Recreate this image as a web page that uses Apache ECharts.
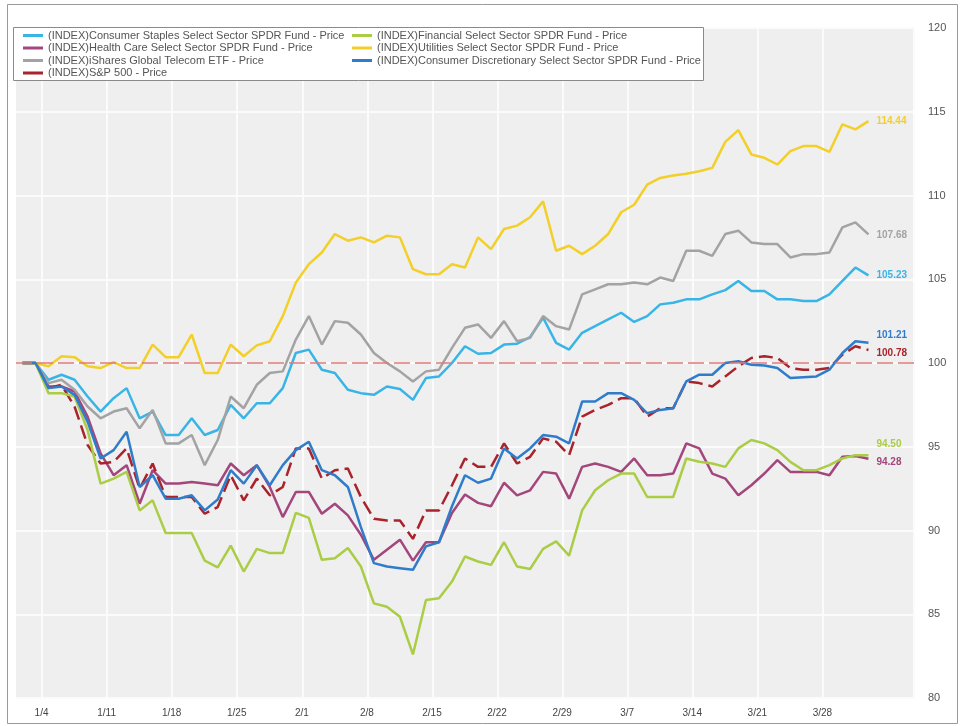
<!DOCTYPE html>
<html>
<head>
<meta charset="utf-8">
<title>Sector SPDR funds vs S&amp;P 500</title>
<script src="https://cdn.jsdelivr.net/npm/echarts@6.0.0/dist/echarts.min.js"></script>
<style>
  html, body { margin: 0; padding: 0; background: #fff; }
  #chart { width: 963px; height: 726px; }
</style>
</head>
<body>
<div id="chart"></div>
<script>
// weekday slots, 12/31/2015 .. 3/31/2016 (+ a few empty slots on the right)
const dates = ['12/31','1/1','1/4','1/5','1/6','1/7','1/8','1/11','1/12','1/13','1/14','1/15','1/18','1/19','1/20','1/21','1/22',
  '1/25','1/26','1/27','1/28','1/29','2/1','2/2','2/3','2/4','2/5','2/8','2/9','2/10','2/11','2/12','2/15','2/16','2/17','2/18','2/19',
  '2/22','2/23','2/24','2/25','2/26','2/29','3/1','3/2','3/3','3/4','3/7','3/8','3/9','3/10','3/11','3/14','3/15','3/16','3/17','3/18',
  '3/21','3/22','3/23','3/24','3/25','3/28','3/29','3/30','3/31','4/1','4/4','4/5'];

// which slots get a date label / week line (the Mondays)
const weekStarts = ['1/4','1/11','1/18','1/25','2/1','2/8','2/15','2/22','2/29','3/7','3/14','3/21','3/28'];

const staples = [100, 100, 99.0, 99.3, 99.0, 98.0, 97.1, 97.9, 98.5, 96.7,
  97.1, 95.7, 95.7, 96.7, 95.7, 96.0, 97.5, 96.7, 97.6, 97.6,
  98.5, 100.6, 100.8, 99.6, 99.4, 98.4, 98.2, 98.1, 98.6, 98.45,
  97.8, 99.1, 99.2, 100.0, 101.0, 100.55, 100.6, 101.1, 101.15, 101.55,
  102.7, 101.2, 100.8, 101.8, 102.2, 102.6, 103.0, 102.45, 102.8, 103.5,
  103.6, 103.8, 103.8, 104.1, 104.35, 104.9, 104.3, 104.3, 103.8, 103.8,
  103.7, 103.7, 104.1, 104.9, 105.7, 105.23];

const health = [100, 100, 98.6, 98.6, 98.3, 96.8, 94.6, 93.3, 93.9, 91.6,
  93.6, 92.8, 92.8, 92.9, 92.8, 92.7, 94.0, 93.3, 93.9, 92.6,
  90.8, 92.3, 92.3, 91.0, 91.6, 90.9, 89.75, 88.25, 88.85, 89.45,
  88.2, 89.3, 89.3, 91.05, 92.15, 91.65, 91.45, 92.85, 92.1, 92.4,
  93.5, 93.4, 91.9, 93.8, 94.0, 93.8, 93.5, 94.3, 93.3, 93.3,
  93.4, 95.2, 94.9, 93.4, 93.1, 92.1, 92.7, 93.4, 94.2, 93.5,
  93.5, 93.5, 93.3, 94.4, 94.45, 94.28];

const telecom = [100, 100, 98.8, 99.0, 98.4, 97.4, 96.7, 97.1, 97.3, 96.1,
  97.2, 95.2, 95.2, 95.7, 93.9, 95.4, 98.0, 97.3, 98.7, 99.4,
  99.5, 101.4, 102.8, 101.1, 102.5, 102.4, 101.7, 100.6, 100.0, 99.5,
  98.9, 99.5, 99.6, 100.9, 102.1, 102.3, 101.5, 102.5, 101.3, 101.5,
  102.8, 102.2, 102.0, 104.1, 104.4, 104.7, 104.7, 104.8, 104.7, 105.1,
  104.9, 106.7, 106.7, 106.4, 107.7, 107.9, 107.2, 107.1, 107.1, 106.3,
  106.5, 106.5, 106.6, 108.1, 108.4, 107.68];

const sp500 = [100, 100, 98.5, 98.7, 97.4, 95.1, 94.0, 94.1, 94.9, 92.5,
  94.0, 92.0, 92.0, 92.0, 91.0, 91.4, 93.3, 91.8, 93.1, 92.1,
  92.6, 94.9, 94.9, 93.1, 93.6, 93.7, 92.0, 90.7, 90.6, 90.6,
  89.5, 91.2, 91.2, 92.7, 94.3, 93.8, 93.8, 95.2, 94.0, 94.4,
  95.5, 95.3, 94.5, 96.8, 97.2, 97.5, 97.9, 97.9, 96.8, 97.3,
  97.3, 98.9, 98.8, 98.6, 99.2, 99.8, 100.3, 100.4, 100.3, 99.7,
  99.6, 99.6, 99.7, 100.5, 101.0, 100.78];

const financial = [100, 100, 98.2, 98.2, 98.0, 96.0, 92.8, 93.1, 93.5, 91.2,
  91.8, 89.85, 89.85, 89.85, 88.2, 87.8, 89.1, 87.55, 88.9, 88.65,
  88.65, 91.05, 90.75, 88.25, 88.35, 88.95, 87.85, 85.65, 85.45, 84.85,
  82.6, 85.85, 85.95, 86.95, 88.45, 88.15, 87.95, 89.3, 87.85, 87.7,
  88.9, 89.35, 88.5, 91.2, 92.4, 93.0, 93.4, 93.4, 92.0, 92.0,
  92.0, 94.3, 94.1, 94.0, 93.8, 94.9, 95.4, 95.2, 94.8, 94.1,
  93.6, 93.6, 93.9, 94.3, 94.5, 94.5];

const utilities = [100, 100, 99.8, 100.4, 100.35, 99.8, 99.7, 100.05, 99.7, 99.7,
  101.1, 100.35, 100.35, 101.7, 99.4, 99.4, 101.1, 100.4, 101.05, 101.3,
  102.8, 104.8, 105.9, 106.6, 107.7, 107.3, 107.5, 107.2, 107.6, 107.5,
  105.6, 105.3, 105.3, 105.9, 105.7, 107.5, 106.8, 108.0, 108.2, 108.7,
  109.65, 106.7, 107.0, 106.5, 107.0, 107.7, 109.0, 109.45, 110.65, 111.05,
  111.2, 111.3, 111.45, 111.65, 113.2, 113.9, 112.45, 112.25, 111.85, 112.65,
  112.95, 112.95, 112.6, 114.25, 113.95, 114.44];

const discretionary = [100, 100, 98.5, 98.6, 98.1, 96.5, 94.3, 94.8, 95.9, 92.6,
  93.3, 91.9, 91.9, 92.1, 91.2, 91.85, 93.6, 92.8, 93.9, 92.7,
  93.9, 94.8, 95.3, 93.6, 93.3, 92.6, 90.2, 88.05, 87.85, 87.75,
  87.65, 89.05, 89.3, 91.45, 93.3, 92.85, 93.1, 94.9, 94.3, 94.9,
  95.7, 95.6, 95.2, 97.7, 97.7, 98.2, 98.2, 97.8, 97.0, 97.2,
  97.3, 98.9, 99.3, 99.3, 100.0, 100.1, 99.9, 99.85, 99.7, 99.1,
  99.15, 99.2, 99.6, 100.6, 101.3, 101.21];

const names = {
  staples: '(INDEX)Consumer Staples Select Sector SPDR Fund - Price',
  health: '(INDEX)Health Care Select Sector SPDR Fund - Price',
  telecom: '(INDEX)iShares Global Telecom ETF - Price',
  sp500: '(INDEX)S&P 500 - Price',
  financial: '(INDEX)Financial Select Sector SPDR Fund - Price',
  utilities: '(INDEX)Utilities Select Sector SPDR Fund - Price',
  discretionary: '(INDEX)Consumer Discretionary Select Sector SPDR Fund - Price'
};

const chart = echarts.init(document.getElementById('chart'));

const isWeekStart = (index) => weekStarts.indexOf(dates[index]) !== -1;

// one line series, end value printed right of the last point
function makeLine(name, data, color, labelDy, extra) {
  return Object.assign({
    name: name,
    type: 'line',
    data: data,
    symbol: 'none',
    smooth: false,
    lineStyle: { color: color, width: 2.5 },
    itemStyle: { color: color },
    emphasis: { disabled: true },
    endLabel: {
      show: true,
      formatter: (p) => Number(p.value).toFixed(2),
      color: color,
      fontSize: 10,
      fontWeight: 'bold',
      fontFamily: 'Liberation Sans, Arial, sans-serif',
      distance: 8,
      offset: [0, labelDy]
    }
  }, extra || {});
}

const legendText = {
  fontSize: 11,
  color: '#555',
  fontFamily: 'Liberation Sans, Arial, sans-serif',
  lineHeight: 11
};

const option = {
  backgroundColor: '#fff',
  animation: false,
  grid: {
    left: 16,
    top: 28,
    width: 898,
    height: 670,
    show: true,
    backgroundColor: '#efefef',
    borderWidth: 0
  },
  legend: [
    {
      data: [names.staples, names.health, names.telecom, names.sp500],
      orient: 'vertical',
      left: 18,
      top: 25,
      icon: 'rect',
      itemWidth: 20,
      itemHeight: 3,
      itemGap: 1.5,
      selectedMode: false,
      textStyle: legendText,
      z: 6
    },
    {
      data: [names.financial, names.utilities, names.discretionary],
      orient: 'vertical',
      left: 347,
      top: 25,
      icon: 'rect',
      itemWidth: 20,
      itemHeight: 3,
      itemGap: 1.5,
      selectedMode: false,
      textStyle: legendText,
      z: 6
    }
  ],
  graphic: [
    {
      type: 'rect',
      z: 5,
      shape: { x: 13.5, y: 27.5, width: 690, height: 53 },
      style: { fill: '#fff', stroke: '#8a8a8a', lineWidth: 1 }
    },
    {
      type: 'rect',
      z: 5,
      silent: true,
      shape: { x: 7.5, y: 4.5, width: 950, height: 719 },
      style: { fill: 'none', stroke: '#9a9a9a', lineWidth: 1 }
    }
  ],
  xAxis: {
    type: 'category',
    data: dates,
    boundaryGap: true,
    axisLine: { show: false },
    axisTick: { show: false },
    axisLabel: {
      interval: (index) => isWeekStart(index),
      color: '#444',
      fontSize: 10,
      fontFamily: 'Liberation Sans, Arial, sans-serif',
      margin: 10,
      padding: [0, 14, 0, 0]
    },
    splitLine: {
      show: true,
      interval: (index) => isWeekStart(index),
      lineStyle: { color: '#fbfbfb', width: 2 }
    }
  },
  yAxis: {
    type: 'value',
    position: 'right',
    min: 80,
    max: 120,
    interval: 5,
    axisLine: { show: false },
    axisTick: { show: false },
    axisLabel: {
      color: '#555',
      fontSize: 11,
      fontFamily: 'Liberation Sans, Arial, sans-serif',
      margin: 14
    },
    splitLine: { lineStyle: { color: '#fbfbfb', width: 2 } }
  },
  series: [
    makeLine(names.staples, staples, '#38b5e6', 0),
    makeLine(names.health, health, '#a3467c', 3),
    makeLine(names.telecom, telecom, '#a3a3a3', 1),
    makeLine(names.sp500, sp500, '#a8232b', 3, {
      lineStyle: { color: '#a8232b', width: 2.5, type: [14, 6] },
      markLine: {
        silent: true,
        symbol: 'none',
        label: { show: false },
        lineStyle: { color: '#e07a7a', width: 1.5, type: [16, 5] },
        data: [{ yAxis: 100 }]
      }
    }),
    makeLine(names.financial, financial, '#aacd45', -11),
    makeLine(names.utilities, utilities, '#f2cf29', 0),
    makeLine(names.discretionary, discretionary, '#2f7ccb', -7)
  ]
};

chart.setOption(option);

window.addEventListener('resize', () => chart.resize());
</script>
</body>
</html>
